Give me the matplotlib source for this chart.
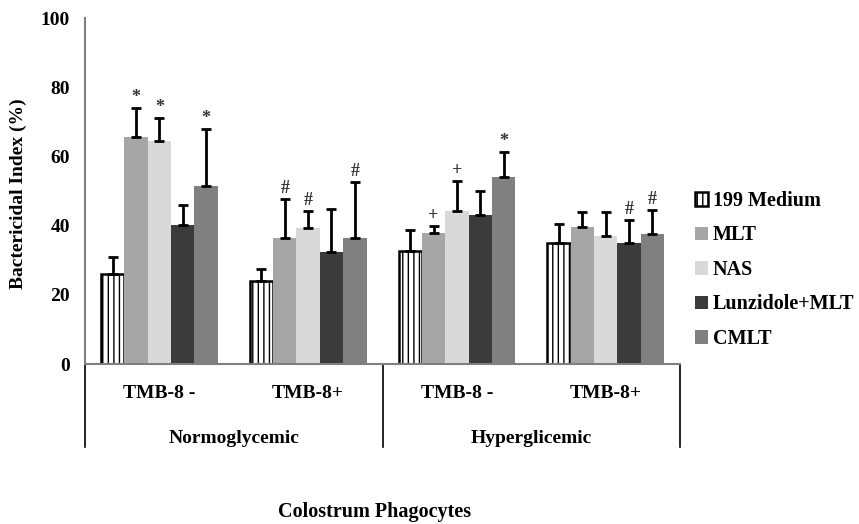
import numpy as np
import matplotlib
matplotlib.use("Agg")
import matplotlib.pyplot as plt

plt.rcParams['font.family'] = ['Liberation Serif', 'DejaVu Serif']
plt.rcParams['font.weight'] = 'bold'
plt.rcParams['hatch.linewidth'] = 1.0

# data
subgroups = ["TMB-8 -", "TMB-8+", "TMB-8 -", "TMB-8+"]
conditions = ["Normoglycemic", "Hyperglicemic"]
treatments = ["199 Medium", "MLT", "NAS", "Lunzidole+MLT", "CMLT"]

medium_199 = [26.0, 24.0, 32.7, 35.0]
mlt = [65.5, 36.3, 37.8, 39.5]
nas = [64.5, 39.2, 44.2, 37.0]
lunzidole = [40.2, 32.5, 43.0, 35.0]
cmlt = [51.5, 36.3, 54.0, 37.6]

err_199 = [5.0, 3.5, 6.0, 5.6]
err_mlt = [8.4, 11.4, 2.2, 4.4]
err_nas = [6.6, 4.9, 8.8, 6.9]
err_lunz = [5.7, 12.3, 6.9, 6.5]
err_cmlt = [16.3, 16.3, 7.3, 6.9]

# significance marks per treatment, per subgroup
marks_199 = ["", "", "", ""]
marks_mlt = ["*", "#", "+", ""]
marks_nas = ["*", "#", "+", ""]
marks_lunz = ["", "", "", "#"]
marks_cmlt = ["*", "#", "*", "#"]

values = [medium_199, mlt, nas, lunzidole, cmlt]
errors = [err_199, err_mlt, err_nas, err_lunz, err_cmlt]
marks = [marks_199, marks_mlt, marks_nas, marks_lunz, marks_cmlt]
colors = ['white', '#a6a6a6', '#d9d9d9', '#3b3b3b', '#808080']

fig = plt.figure(figsize=(8.59, 5.24), dpi=100)
ax = fig.add_axes([0.099, 0.3053, 0.6926, 0.6603])

x = np.arange(len(subgroups))
w = 0.157
for i, (vals, errs, mk, c) in enumerate(zip(values, errors, marks, colors)):
    pos = x + (i - 2) * w
    if i == 0:
        ax.bar(pos, vals, w, color='white', edgecolor='black', hatch='|||',
               linewidth=1.8, label=treatments[i], zorder=2)
    else:
        ax.bar(pos, vals, w, color=c, edgecolor='none', label=treatments[i], zorder=2)
    ax.errorbar(pos, vals, yerr=[np.zeros(len(errs)), errs], fmt='none',
                ecolor='black', elinewidth=2, capsize=3.5, capthick=2, zorder=3)
    for p, v, e, m in zip(pos, vals, errs, mk):
        if m:
            ax.annotate(m, (p, v + e), xytext=(0, 1.5), textcoords='offset points',
                        ha='center', va='bottom', fontsize=13, color='#333333')

ax.set_xlim(-0.5, 3.5)
ax.set_ylim(0, 100)
ax.set_yticks([0, 20, 40, 60, 80, 100])
ax.set_xticks(x)
ax.set_xticklabels(subgroups)
ax.tick_params(axis='both', length=0, labelsize=14)
ax.tick_params(axis='x', pad=15)
ax.tick_params(axis='y', pad=11)
for s in ['top', 'right']:
    ax.spines[s].set_visible(False)
for s in ['left', 'bottom']:
    ax.spines[s].set_color('#7f7f7f')
    ax.spines[s].set_linewidth(1.5)

# second level category axis
for xv in [-0.5, 1.5, 3.5]:
    ax.plot([xv, xv], [0, -24], color='black', linewidth=1.2, clip_on=False,
            transform=ax.transData)
for j, cond in enumerate(conditions):
    ax.text(2 * j + 0.5, -21.5, cond, ha='center', va='center', fontsize=14)

fig.text(0.021, 0.63, "Bactericidal Index (%)", rotation=90, ha='center',
         va='center', fontsize=14)
fig.text(0.4366, 0.023, "Colostrum Phagocytes", ha='center', va='center', fontsize=14.5)

fig.legend(loc='center left', bbox_to_anchor=(0.797, 0.485), frameon=False,
           fontsize=14.5, handlelength=0.65, handleheight=0.65, handletextpad=0.25,
           labelspacing=0.72, borderpad=0)

fig.savefig("out.png", dpi=100)
